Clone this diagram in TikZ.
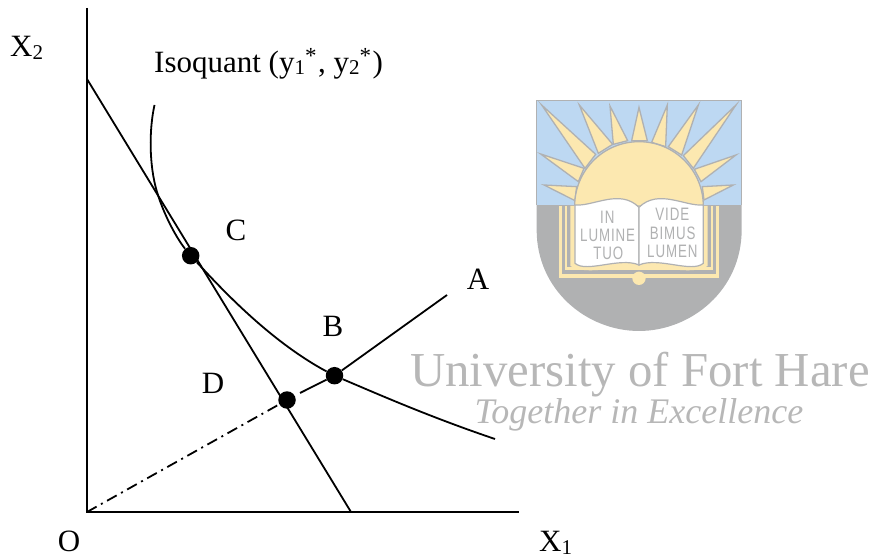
\documentclass[tikz,border=0pt]{standalone}
\usepackage{fontspec}
\setmainfont{Liberation Serif}
\newfontfamily\crestfont[FakeStretch=0.74,LetterSpace=5]{Liberation Sans}
\definecolor{crestgray}{HTML}{B0B1B2}
\definecolor{crestblue}{HTML}{BDD8F2}
\definecolor{crestyellow}{HTML}{FCE8B0}
\definecolor{wordgray}{HTML}{B7B7B7}
\newcommand\lowidx[1]{\raisebox{-2.5pt}{\fontsize{21}{21}\selectfont #1}}
\newcommand\highstar{\raisebox{9pt}{\fontsize{23}{23}\selectfont *}\kern1.5pt}
\tikzset{
  axisline/.style={black,line width=1.8pt},
  curveline/.style={black,line width=1.8pt},
  dashdotline/.style={black,line width=1.8pt,dash pattern=on 11pt off 5pt on 2pt off 5pt},
  ptdot/.style={circle,fill=black,inner sep=0pt,minimum size=17.5pt},
  lab/.style={font=\fontsize{31}{33}\selectfont,inner sep=0pt,text=black},
  ray/.style={fill=crestyellow,draw=crestgray,line width=1.3pt,line join=miter},
  motto/.style={font=\crestfont\fontsize{18}{18}\selectfont,text=crestgray,inner sep=0pt},
}
\begin{document}
\begin{tikzpicture}[x=1pt,y=-1pt]
\useasboundingbox (0,0) rectangle (871,556);
% ---- crest, in its own local coordinates
\begin{scope}[shift={(530,90)},x=0.3333pt,y=-0.3333pt]
  \fill[crestgray] (20,345) -- (20,420) .. controls (20,600) and (170,723) .. (327,723)
     .. controls (484,723) and (635,600) .. (635,420) -- (635,345) -- cycle;
  \fill[crestblue] (20,32) rectangle (635,346);
  \draw[crestgray,line width=1.6pt] (20,345) -- (20,32) -- (635,32) -- (635,345);
  \foreach \tx/\ty/\ax/\ay/\bx/\by in {
     35/45/165/235/197/193, 148/45/205/190/248/163, 240/48/250/163/293/152,
     327/52/305/152/352/152, 412/45/365/157/407/170, 505/45/415/170/455/195,
     618/45/460/197/490/235, 618/195/493/238/513/275, 610/285/517/290/522/330,
     32/192/162/235/145/275, 42/285/140/290/135/332}
    {\draw[ray] (\ax,\ay) -- (\tx,\ty) -- (\bx,\by) -- cycle;}
  \draw[fill=crestyellow,draw=crestgray,line width=1.3pt] (134,348) arc[start angle=180,end angle=360,radius=193] -- cycle;
  \fill[crestyellow] (87,348) rectangle (567,563);
  \fill[crestgray] (97,348) rectangle (557,552);
  \fill[crestyellow] (105,348) rectangle (549,540);
  \fill[crestgray] (111,348) rectangle (543,532);
  \fill[crestyellow] (121,348) -- (121,528) .. controls (170,560) and (280,520) .. (327,540)
     .. controls (375,520) and (485,560) .. (533,528) -- (533,348) -- cycle;
  \draw[fill=white,draw=crestgray,line width=1.2pt] (135,345) .. controls (190,350) and (270,295) .. (327,352)
     -- (327,525) .. controls (270,500) and (170,550) .. (135,520) -- cycle;
  \draw[fill=white,draw=crestgray,line width=1.2pt] (520,345) .. controls (465,350) and (385,295) .. (327,352)
     -- (327,525) .. controls (385,500) and (485,550) .. (520,520) -- cycle;
  \fill[crestyellow] (327,565) circle[radius=20];
  \node[motto] (m1) at (232,382) {IN};
  \node[motto] (m2) at (233,436) {LUMINE};
  \node[motto] (m3) at (235,490) {TUO};
  \node[motto] (m4) at (427,372) {VIDE};
  \node[motto] (m5) at (428,430) {BIMUS};
  \node[motto] (m6) at (427,485) {LUMEN};
\end{scope}
\node[font=\fontsize{48.8}{50}\selectfont,text=wordgray,inner sep=0pt] (uni) at (640,375) {University of Fort Hare};
\node[font=\itshape\fontsize{36}{38}\selectfont,text=wordgray,inner sep=0pt] (tag) at (639,415) {Together in Excellence};
% ---- axes
\coordinate (O) at (87,512);
\coordinate (ytop) at (87,8);
\coordinate (xend) at (519,512);
\coordinate (lineTop) at (87,79);
\coordinate (lineBot) at (351,512);
\coordinate (rayEnd) at (447,295);
\coordinate (rayGap) at (300,393);
\coordinate (isoStart) at (154.5,105);
\coordinate (isoCross) at (157,192);
\coordinate (isoEnd) at (495,439);
\draw[axisline] (ytop) -- (O) -- (xend);
\draw[curveline] (lineTop) -- (lineBot);
\node[ptdot] (C) at (190.7,255.7) {};
\node[ptdot] (B) at (334.5,375.7) {};
\node[ptdot] (D) at (287,400) {};
\draw[dashdotline] (O) -- (D);
\draw[curveline] (rayGap) -- (B) -- (rayEnd);
\draw[curveline] (isoStart) .. controls (149,130) and (149,165) .. (isoCross)
   .. controls (165,218) and (178,240) .. (C)
   .. controls (218,285) and (268,340) .. (B)
   .. controls (380,395) and (430,417) .. (isoEnd);
% ---- labels
\node[lab,anchor=base west] (lx2) at (10,57) {X\lowidx{2}};
\node[lab,anchor=base west] (liso) at (154,72.5) {Isoquant (y\lowidx{1}\highstar, y\lowidx{2}\highstar)};
\node[lab] (lc) at (236,230) {C};
\node[lab] (la) at (478,279) {A};
\node[lab] (lb) at (333,326) {B};
\node[lab] (ld) at (213,383) {D};
\node[lab] (lo) at (69,541) {O};
\node[lab,anchor=base west] (lx1) at (539,551.5) {X\lowidx{1}};
\end{tikzpicture}
\end{document}
